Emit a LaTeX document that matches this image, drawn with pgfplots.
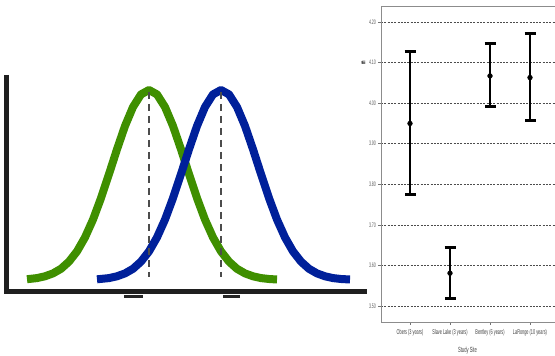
\documentclass[border=0pt]{standalone}
\usepackage{fontspec}
\setmainfont{Liberation Sans}
\newfontfamily\condfont[FakeStretch=0.55]{Liberation Sans}
\usepackage{pgfplots}
\pgfplotsset{compat=1.18}
\definecolor{cgreen}{HTML}{3F8F00}
\definecolor{cblue}{HTML}{00209A}
\begin{document}
\begin{tikzpicture}[x=1pt,y=1pt]
\useasboundingbox (0,0) rectangle (555,356);
\clip (0,0) rectangle (555,356);
% ---------- left: two normal curves ----------
\begin{axis}[at={(0pt,63pt)}, anchor=south west, scale only axis,
  width=380pt, height=293pt, xmin=0, xmax=380, ymin=0, ymax=293,
  hide axis, clip=false]
\addplot[black!88, line width=5pt, line join=miter] coordinates {(6.8,218) (6.8,1) (367,1)};
\addplot[black!85, line width=3pt] coordinates {(124,-4) (143,-4)};
\addplot[black!85, line width=3pt] coordinates {(223,-4) (240,-4)};
\addplot[cgreen, line width=8pt, line join=round] coordinates {
(27,13.8) (37,14.9) (45,16.7) (53,19.6) (61,24.2) (69,31.4) (77,41.6) (85,55.6)
(93,73.4) (101,94.9) (109,118.9) (117,143.7) (125,167.0) (133,186.0) (141,198.6)
(149,203.0) (157,198.6) (165,186.0) (173,167.0) (181,143.7) (189,118.9) (197,94.9)
(205,73.4) (213,55.6) (221,41.6) (229,31.4) (237,24.2) (245,19.6) (253,16.7)
(261,14.9) (269,14.0) (277,13.5)};
\addplot[cblue, line width=8pt, line join=round] coordinates {
(97,13.7) (109,14.9) (117,16.7) (125,19.6) (133,24.2) (141,31.4) (149,41.6) (157,55.6)
(165,73.4) (173,94.9) (181,118.9) (189,143.7) (197,167.0) (205,186.0) (213,198.6)
(221,203.0) (229,198.6) (237,186.0) (245,167.0) (253,143.7) (261,118.9) (269,94.9)
(277,73.4) (285,55.6) (293,41.6) (301,31.4) (309,24.2) (317,19.6) (325,16.7)
(333,14.9) (341,14.0) (350,13.5)};
\addplot[black!70, line width=1.3pt, dash pattern=on 7pt off 5pt] coordinates {(149,201) (149,16)};
\addplot[black!70, line width=1.3pt, dash pattern=on 7pt off 5pt] coordinates {(221,201) (221,16)};
\end{axis}
% ---------- right: error bar chart ----------
\begin{axis}[at={(381pt,34pt)}, anchor=south west, scale only axis,
  width=189pt, height=316pt,
  xmin=-0.725, xmax=4, ymin=3.4607, ymax=4.2393,
  axis line style={black!45, line width=0.8pt},
  xtick={0,1,2,3},
  xticklabels={Obers (3 years), Slave Lake (3 years), Bentley (6 years), LaRonge (10 years)},
  ytick={3.5,3.6,3.7,3.8,3.9,4.0,4.1,4.2},
  xtick pos=bottom, ytick pos=left, tick align=outside,
  major tick length=3pt,
  tick style={black!55, line width=0.7pt},
  /pgf/number format/.cd, fixed, fixed zerofill, precision=2, assume math mode=true,
  /pgfplots/.cd,
  yticklabel style={font=\condfont\fontsize{6.5}{7}\selectfont, text=black!65, xshift=1.5pt},
  xticklabel style={font=\condfont\fontsize{7}{8}\selectfont, text=black!75, yshift=-1pt},
  ymajorgrids, grid style={black!70, line width=0.6pt, dash pattern=on 2pt off 1.3pt},
  xlabel={Study Site}, xlabel style={font=\condfont\fontsize{7.5}{8}\selectfont, text=black!75, xshift=-8pt, yshift=-4pt},
  ylabel={m}, ylabel style={font=\condfont\fontsize{7}{8}\selectfont\bfseries, at={(axis description cs:0,0.82)}, anchor=south, yshift=12pt},
  clip=false]
\addplot[black, only marks, mark=*, mark size=2.4pt,
  error bars/.cd, y dir=both, y explicit,
  error bar style={line width=1.3pt, black},
  error mark options={rotate=90, line width=2.8pt, mark size=5.5pt, black}]
coordinates {
(0,3.950) += (0,0.177) -= (0,0.175)
(1,3.581) += (0,0.063) -= (0,0.062)
(2,4.067) += (0,0.079) -= (0,0.076)
(3,4.063) += (0,0.108) -= (0,0.105)
};
\end{axis}
\end{tikzpicture}
\end{document}
